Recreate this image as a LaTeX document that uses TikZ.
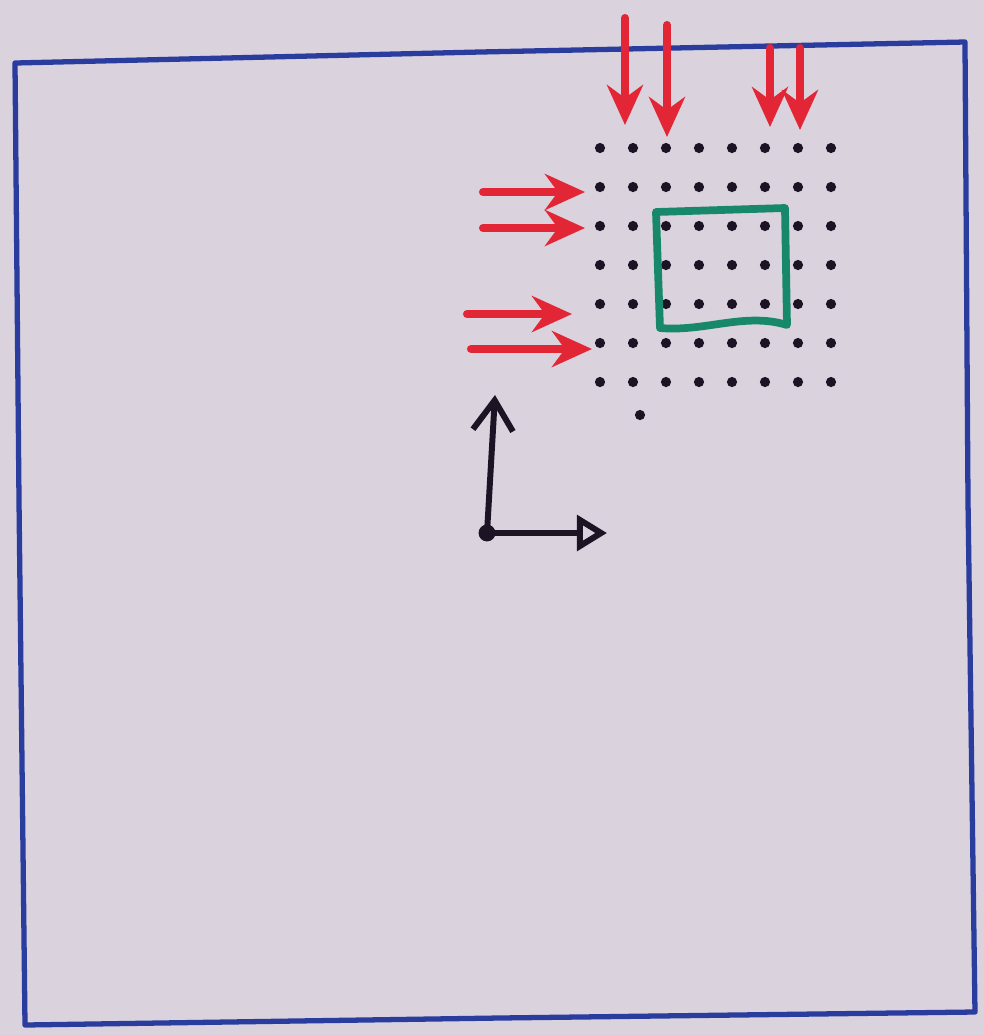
\documentclass[tikz,border=0pt]{standalone}
\usetikzlibrary{arrows.meta}
\definecolor{paperlilac}{HTML}{DAD2DD}
\definecolor{frameblue}{HTML}{2A3C9E}
\definecolor{flowred}{HTML}{E32636}
\definecolor{boxgreen}{HTML}{17896A}
\definecolor{dotblack}{HTML}{1C1424}
\begin{document}
\begin{tikzpicture}[x=0.01cm,y=-0.01cm,line cap=round,line join=round,
  inflow/.style={draw=flowred,line width=2.3pt,-{Stealth[length=4mm,width=3.6mm]}},
  axis/.style={draw=dotblack,line width=1.7pt},
  gridpt/.style={circle,fill=dotblack,inner sep=0pt,minimum size=2.9pt}]
\fill[paperlilac] (0,0) rectangle (984,1035);
\useasboundingbox (0,0) rectangle (984,1035);
\draw[frameblue,line width=1.5pt] (15,63) -- (480,52) -- (965,42) -- (968,500) -- (975,1012) -- (500,1018) -- (25,1025) -- (19,500) -- cycle;
\foreach \i in {0,...,7}
  \foreach \j in {0,...,6}
    \node[gridpt] (g\i\j) at (600+33*\i,148+39*\j) {};
\node[gridpt] (g18) at (640,415) {};
\draw[boxgreen,line width=2.2pt] (656,212) -- (785,208) -- (787,325) .. controls (745,312) and (705,332) .. (660,328) -- cycle;
\coordinate (ta) at (625,18);  \coordinate (ha) at (625,125);
\coordinate (tb) at (667,25);  \coordinate (hb) at (667,137);
\coordinate (tc) at (770,48);  \coordinate (hc) at (770,127);
\coordinate (td) at (800,48);  \coordinate (hd) at (800,130);
\coordinate (la) at (483,192); \coordinate (ra) at (585,192);
\coordinate (lb) at (483,228); \coordinate (rb) at (585,228);
\coordinate (lc) at (467,314); \coordinate (rc) at (572,314);
\coordinate (ld) at (471,349); \coordinate (rd) at (592,349);
\foreach \s/\e in {ta/ha,tb/hb,tc/hc,td/hd,la/ra,lb/rb,lc/rc,ld/rd}
  \draw[inflow] (\s) -- (\e);
\node[circle,fill=dotblack,inner sep=0pt,minimum size=4.8pt] (o) at (487,533) {};
\coordinate (ey) at (495,395);
\coordinate (ex) at (607,533);
\draw[axis,-{Straight Barb[length=3mm,width=4mm]}] (o.center) -- (ey);
\draw[axis,-{Triangle[open,length=3mm,width=3.5mm]}] (o.center) -- (ex);
\end{tikzpicture}
\end{document}
